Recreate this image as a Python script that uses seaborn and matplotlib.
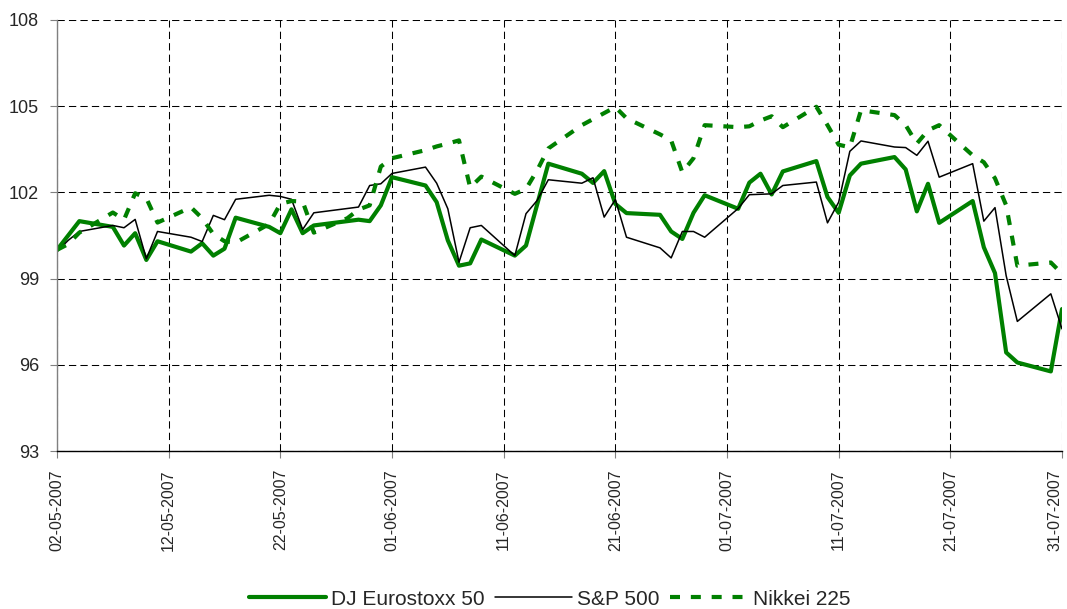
import pandas as pd
import matplotlib
matplotlib.use("Agg")
import matplotlib.pyplot as plt
import matplotlib.dates as mdates
import matplotlib.transforms as mtransforms
import seaborn as sns

# trading days
dates = [
    "2007-05-02", "2007-05-03", "2007-05-04", "2007-05-07", "2007-05-08", "2007-05-09", "2007-05-10", "2007-05-11",
    "2007-05-14", "2007-05-15", "2007-05-16", "2007-05-17", "2007-05-18",
    "2007-05-21", "2007-05-22", "2007-05-23", "2007-05-24", "2007-05-25",
    "2007-05-28", "2007-05-29", "2007-05-30", "2007-05-31", "2007-06-01",
    "2007-06-04", "2007-06-05", "2007-06-06", "2007-06-07", "2007-06-08", "2007-06-09",
    "2007-06-12", "2007-06-13", "2007-06-14", "2007-06-15",
    "2007-06-18", "2007-06-19", "2007-06-20", "2007-06-21", "2007-06-22",
    "2007-06-25", "2007-06-26", "2007-06-27", "2007-06-28", "2007-06-29",
    "2007-07-02", "2007-07-03", "2007-07-04", "2007-07-05", "2007-07-06",
    "2007-07-09", "2007-07-10", "2007-07-11", "2007-07-12", "2007-07-13",
    "2007-07-16", "2007-07-17", "2007-07-18", "2007-07-19", "2007-07-20",
    "2007-07-23", "2007-07-24", "2007-07-25", "2007-07-26", "2007-07-27",
    "2007-07-30", "2007-07-31",
]

nan = float("nan")

eurostoxx = [
    100.0, 100.5, 101.0, 100.8, 100.15, 100.58, 99.65, 100.3,
    99.94, 100.23, 99.8, 100.04, 101.12,
    100.8, 100.58, 101.41, 100.58, 100.85,
    101.0, 101.05, 101.0, 101.55, 102.53,
    102.24, 101.66, 100.33, 99.45, 99.53, 100.36,
    99.8, 100.15, 101.58, 103.0,
    102.65, 102.33, 102.74, 101.6, 101.28,
    101.22, 100.64, 100.38, 101.29, 101.9,
    101.43, 102.34, 102.65, 101.93, 102.73,
    103.09, 101.84, 101.29, 102.59, 103.0,
    103.23, 102.8, 101.34, 102.3, 100.94,
    101.7, 100.09, 99.19, 96.43, 96.08,
    95.77, 97.94,
]

sp500 = [
    99.94, 100.33, 100.64, 100.85, 100.77, 101.06, 99.69, 100.64,
    100.44, 100.29, 101.2, 101.05, 101.76,
    101.9, 101.86, 101.76, 100.71, 101.29,
    nan, 101.49, 102.24, 102.3, 102.66,
    102.88, 102.32, 101.43, 99.57, 100.77, 100.85,
    99.8, 101.26, 101.72, 102.44,
    102.32, 102.51, 101.14, 101.75, 100.44,
    100.07, 99.72, 100.64, 100.64, 100.44,
    101.44, 101.92, nan, 101.95, 102.24,
    102.36, 100.94, 101.66, 103.43, 103.79,
    103.58, 103.56, 103.29, 103.78, 102.53,
    103.0, 101.0, 101.47, 99.1, 97.51,
    98.47, 97.25,
]

nikkei = [
    100.0, 100.2, 100.6, 101.3, 101.05, 101.97, 101.8, 100.95,
    101.48, 101.1, 100.55, 100.3, 100.25,
    100.9, 101.6, 101.7, 101.68, 100.6,
    101.1, 101.4, 101.55, 102.9, 103.19,
    103.47, 103.6, 103.7, 103.81, 102.17, 102.55,
    101.95, 102.12, 102.77, 103.53,
    104.34, 104.55, 104.76, 104.97, 104.58,
    104.02, 103.81, 102.7, 103.19, 104.34,
    104.27, 104.3, 104.5, 104.65, 104.27,
    104.98, 104.34, 103.66, 103.57, 104.86,
    104.69, 104.34, 103.7, 104.16, 104.34,
    103.29, 103.05, 102.49, 101.55, 99.45,
    99.56, 99.17,
]

series_names = ["DJ Eurostoxx 50", "S&P 500", "Nikkei 225"]
y_ticks = [93, 96, 99, 102, 105, 108]

df = pd.DataFrame({
    "Date": pd.to_datetime(dates),
    series_names[0]: eurostoxx,
    series_names[1]: sp500,
    series_names[2]: nikkei,
})
long_df = df.melt(id_vars="Date", var_name="Series", value_name="Value").dropna()

sns.set_style("white")
plt.rcParams["font.family"] = ["Liberation Sans", "DejaVu Sans"]

fig = plt.figure(figsize=(10.67, 6.09), dpi=100)
ax = fig.add_axes([57 / 1067, 1 - 451 / 609, (1062 - 57) / 1067, (451 - 20) / 609])

green = "#008000"
styles = {
    "DJ Eurostoxx 50": dict(color=green, linewidth=3.0, linestyle="-"),
    "S&P 500": dict(color="black", linewidth=1.1, linestyle="-"),
    "Nikkei 225": dict(color=green, linewidth=3.0, linestyle=(0, (2.4, 2.6))),
}
for name in series_names:
    sub = long_df[long_df["Series"] == name]
    sns.lineplot(data=sub, x="Date", y="Value", ax=ax, label=name,
                 estimator=None, sort=True, **styles[name])
for ln in ax.get_lines():
    ln.set_dash_capstyle("butt")
    ln.set_solid_joinstyle("round")

x_start = pd.Timestamp("2007-05-02")
x_end = pd.Timestamp("2007-07-31")
ax.set_xlim(x_start, x_end)
ax.set_ylim(93, 108)
ax.set_yticks(y_ticks)
ax.set_xticks(pd.date_range(x_start, x_end, freq="10D"))
ax.xaxis.set_major_formatter(mdates.DateFormatter("%d-%m-%Y"))
ax.tick_params(axis="x", labelrotation=90, labelsize=11.5, length=5, width=0.8,
               color="#808080", pad=8, direction="out", bottom=True)
ax.tick_params(axis="y", labelsize=13, length=5, width=0.8,
               color="#808080", pad=8, direction="out", left=True)
ax.set_xlabel("")
ax.set_ylabel("")

# last date label sits right at the figure edge, nudge it inside
last_label = ax.get_xticklabels()[-1]
last_label.set_transform(last_label.get_transform() +
                         mtransforms.ScaledTranslation(-5 / 72, 0, fig.dpi_scale_trans))

ax.grid(True, color="black", linestyle=(0, (7, 4)), linewidth=0.75)
for side in ["top", "right"]:
    ax.spines[side].set_visible(False)
ax.spines["left"].set_color("#808080")
ax.spines["left"].set_linewidth(1.0)
ax.spines["bottom"].set_color("black")
ax.spines["bottom"].set_linewidth(1.0)

handles, labels = ax.get_legend_handles_labels()
ax.get_legend().remove()
fig.legend(handles, labels, loc="lower center", bbox_to_anchor=(0.515, -0.03),
           ncol=3, frameon=False, fontsize=15, handlelength=3.7,
           handletextpad=0.25, columnspacing=0.5)

fig.savefig("out.png", dpi=100)
